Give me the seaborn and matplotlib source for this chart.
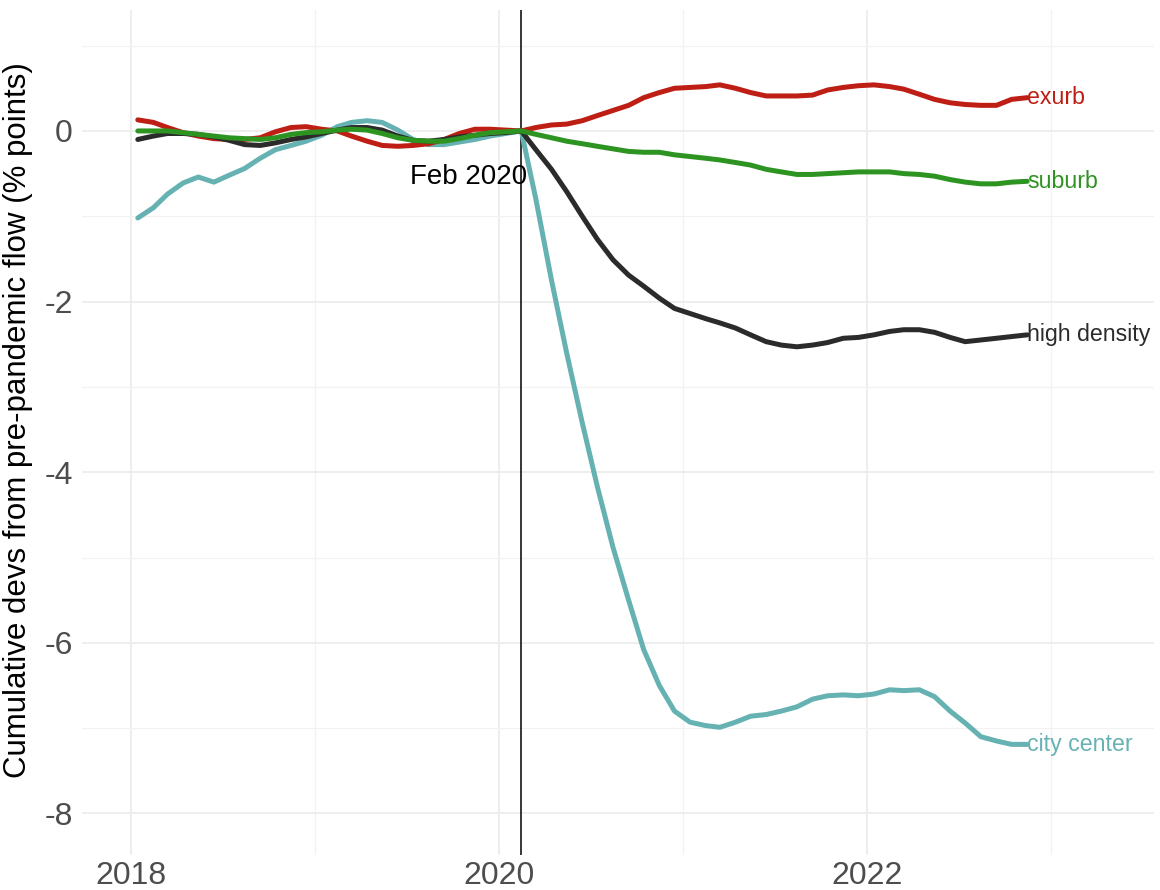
import pandas as pd
import matplotlib
matplotlib.use("Agg")
import matplotlib.pyplot as plt
import matplotlib.dates as mdates
import seaborn as sns

# Monthly values, Jan 2018 - Nov 2022 (cumulative deviation, % points)
months = pd.date_range("2018-01-01", "2022-11-01", freq="MS") + pd.Timedelta(days=14)

city_center = [-1.02, -0.90, -0.74, -0.61, -0.54, -0.60, -0.52, -0.44, -0.32, -0.22,
               -0.17, -0.12, -0.05, 0.05, 0.10, 0.12, 0.10, 0.01, -0.10, -0.16,
               -0.16, -0.13, -0.10, -0.06, -0.03, 0.00,
               -0.80, -1.75, -2.60, -3.42, -4.17, -4.88, -5.50, -6.08, -6.50, -6.80,
               -6.93, -6.97, -6.99, -6.93, -6.86, -6.84, -6.80, -6.75, -6.66, -6.62,
               -6.61, -6.62, -6.60, -6.55, -6.56, -6.55, -6.63, -6.80, -6.94, -7.10,
               -7.15, -7.19, -7.19]
exurb = [0.13, 0.10, 0.04, -0.02, -0.06, -0.09, -0.10, -0.10, -0.08, -0.01,
         0.04, 0.05, 0.02, 0.00, -0.06, -0.12, -0.17, -0.18, -0.17, -0.15,
         -0.10, -0.03, 0.02, 0.02, 0.01, 0.00,
         0.04, 0.07, 0.08, 0.12, 0.18, 0.24, 0.30, 0.39, 0.45, 0.50,
         0.51, 0.52, 0.54, 0.50, 0.45, 0.41, 0.41, 0.41, 0.42, 0.48,
         0.51, 0.53, 0.54, 0.52, 0.49, 0.43, 0.37, 0.33, 0.31, 0.30,
         0.30, 0.37, 0.39]
high_density = [-0.10, -0.06, -0.03, -0.03, -0.04, -0.07, -0.11, -0.16, -0.17, -0.14,
                -0.10, -0.07, -0.03, 0.01, 0.04, 0.04, 0.01, -0.06, -0.11, -0.12,
                -0.10, -0.07, -0.05, -0.03, -0.02, 0.00,
                -0.22, -0.45, -0.71, -1.00, -1.27, -1.51, -1.69, -1.82, -1.96, -2.08,
                -2.14, -2.20, -2.25, -2.31, -2.39, -2.47, -2.51, -2.53, -2.51, -2.48,
                -2.43, -2.42, -2.39, -2.35, -2.33, -2.33, -2.36, -2.42, -2.47, -2.45,
                -2.43, -2.41, -2.39]
suburb = [0.00, 0.00, 0.00, -0.02, -0.04, -0.06, -0.08, -0.09, -0.10, -0.08,
          -0.04, -0.02, -0.01, 0.01, 0.02, 0.01, -0.03, -0.08, -0.11, -0.12,
          -0.12, -0.09, -0.05, -0.02, -0.01, 0.00,
          -0.04, -0.08, -0.12, -0.15, -0.18, -0.21, -0.24, -0.25, -0.25, -0.28,
          -0.30, -0.32, -0.34, -0.37, -0.40, -0.45, -0.48, -0.51, -0.51, -0.50,
          -0.49, -0.48, -0.48, -0.48, -0.50, -0.51, -0.53, -0.57, -0.60, -0.62,
          -0.62, -0.60, -0.59]

areas = ["city center", "exurb", "high density", "suburb"]
colors = {"city center": "#66B2B2", "exurb": "#BE1E14",
          "high density": "#2B2B2B", "suburb": "#2E9421"}

# Long table for seaborn
df = pd.concat([
    pd.DataFrame({"date": months, "value": city_center, "area": "city center"}),
    pd.DataFrame({"date": months, "value": exurb, "area": "exurb"}),
    pd.DataFrame({"date": months, "value": high_density, "area": "high density"}),
    pd.DataFrame({"date": months, "value": suburb, "area": "suburb"}),
], ignore_index=True)

sns.set_theme(style="whitegrid")
plt.rcParams["font.family"] = ["Liberation Sans", "DejaVu Sans"]
plt.rcParams["axes.unicode_minus"] = False

fig = plt.figure(figsize=(11.6, 8.9), dpi=100)
ax = fig.add_axes([0.071, 0.039, 0.924, 0.950])

sns.lineplot(data=df, x="date", y="value", hue="area", hue_order=areas,
             palette=colors, linewidth=3.6, legend=False, ax=ax)

# Reference line at Feb 2020
feb2020 = pd.Timestamp("2020-02-15")
ax.axvline(feb2020, color="black", linewidth=1.1, zorder=1)
ax.annotate("Feb 2020", xy=(feb2020, -0.54), xytext=(4, 0), textcoords="offset points",
            ha="right", va="center", fontsize=20, color="black")

# Direct labels at the end of each series
for area in areas:
    last = df[df["area"] == area].iloc[-1]
    ax.text(last["date"], last["value"], area, color=colors[area], fontsize=16.7,
            ha="left", va="center")

# Axes styling (minimal look)
ax.set_xlim(pd.Timestamp("2017-09-27"), pd.Timestamp("2023-07-25"))
ax.set_ylim(-8.49, 1.42)
ax.set_yticks([0, -2, -4, -6, -8])
ax.set_yticks([1, -1, -3, -5, -7], minor=True)
ax.xaxis.set_major_locator(mdates.YearLocator(2))
ax.xaxis.set_minor_locator(mdates.YearLocator(1))
ax.xaxis.set_major_formatter(mdates.DateFormatter("%Y"))

ax.grid(which="major", color="#EBEBEB", linewidth=1.2)
ax.grid(which="minor", color="#F2F2F2", linewidth=0.9)
ax.tick_params(axis="both", which="both", length=0, labelsize=23, labelcolor="#4D4D4D")
ax.tick_params(axis="y", pad=7)
ax.tick_params(axis="x", pad=4)
for spine in ax.spines.values():
    spine.set_visible(False)
ax.set_facecolor("white")

ax.set_xlabel("")
ax.set_ylabel("Cumulative devs from pre-pandemic flow (% points)", fontsize=22.5,
              color="black")
ax.yaxis.set_label_coords(-0.046, 0.515)

fig.savefig("out.png", dpi=100, facecolor="white")
